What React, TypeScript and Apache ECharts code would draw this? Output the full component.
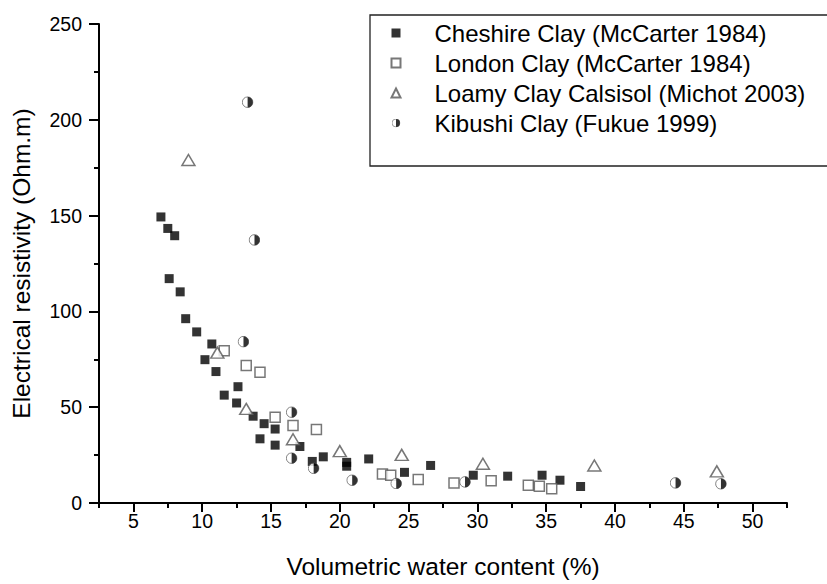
import React, { useEffect, useRef } from "react";
import * as echarts from "echarts";

const seriesNames = [
  "Cheshire Clay (McCarter 1984)",
  "London Clay (McCarter 1984)",
  "Loamy Clay Calsisol (Michot 2003)",
  "Kibushi Clay (Fukue 1999)",
];

const cheshireX = [7.0, 7.5, 8.0, 7.6, 8.4, 8.8, 9.6, 10.7, 10.2, 11.0, 11.6, 12.6, 12.5, 13.7, 14.5, 14.2, 15.3, 15.3, 17.1, 18.0, 18.8, 20.5, 20.5, 22.1, 24.7, 26.6, 29.7, 32.2, 34.7, 36.0, 37.5];
const cheshireY = [149.3, 143.3, 139.5, 117.1, 110.2, 96.2, 89.3, 83.0, 74.8, 68.6, 56.3, 60.7, 52.2, 45.3, 41.4, 33.5, 38.6, 30.2, 29.5, 21.7, 24.1, 21.2, 19.2, 23.0, 16.0, 19.6, 14.5, 14.0, 14.5, 11.9, 8.6];

const londonX = [11.6, 13.2, 14.2, 15.3, 16.6, 18.3, 23.1, 23.7, 25.7, 28.3, 31.0, 33.7, 34.5, 35.4];
const londonY = [79.5, 71.7, 68.3, 44.8, 40.5, 38.3, 15.2, 14.5, 12.2, 10.5, 11.6, 9.2, 8.8, 7.5];

const loamyX = [9.0, 11.1, 13.2, 16.6, 20.0, 24.5, 30.4, 38.5, 47.4];
const loamyY = [179, 78.5, 49.1, 33.3, 27.1, 25.1, 20.5, 19.6, 16.5];

const kibushiX = [13.3, 13.8, 13.0, 16.5, 16.5, 18.1, 20.9, 24.1, 29.1, 44.4, 47.7];
const kibushiY = [209.2, 137.3, 84.2, 47.4, 23.4, 18.1, 11.9, 10.2, 11.0, 10.5, 10.0];

const xLabelValues = [5, 10, 15, 20, 25, 30, 35, 40, 45, 50];
const xAllTickValues = [2.5, 5, 7.5, 10, 12.5, 15, 17.5, 20, 22.5, 25, 27.5, 30, 32.5, 35, 37.5, 40, 42.5, 45, 47.5, 50, 52.5];

const xTitle = "Volumetric water content (%)";
const yTitle = "Electrical resistivity (Ohm.m)";

const FONT = "'Liberation Sans', Arial, sans-serif";

const halfCircleSvg =
  "<svg xmlns='http://www.w3.org/2000/svg' width='24' height='24' viewBox='0 0 24 24'>" +
  "<circle cx='12' cy='12' r='10.6' fill='white' stroke='#555' stroke-width='1.8'/>" +
  "<path d='M12 1.4 A10.6 10.6 0 0 1 12 22.6 Z' fill='black'/></svg>";
const halfCircleSymbol = "image://data:image/svg+xml;charset=utf-8," + encodeURIComponent(halfCircleSvg);

function zip(xs: number[], ys: number[]) {
  return xs.map((x, i) => [x, ys[i]]);
}

export default function App() {
  const ref = useRef<HTMLDivElement>(null);
  useEffect(() => {
    if (!ref.current) return;
    const chart = echarts.init(ref.current, null, { renderer: "svg" });
    const axisLineStyle = { color: "#000", width: 2 };
    chart.setOption({
      animation: false,
      backgroundColor: "#fff",
      textStyle: { fontFamily: FONT },
      grid: { left: 99, right: 40, top: 24, bottom: 73.5 },
      legend: {
        orient: "vertical",
        left: 390.5,
        top: 21,
        padding: 0,
        itemWidth: 9,
        itemHeight: 9,
        itemGap: 6,
        selectedMode: false,
        textStyle: { fontFamily: FONT, fontSize: 24, color: "#000", lineHeight: 24, padding: [0, 0, 0, 29] },
        data: seriesNames,
      },
      graphic: [
        {
          type: "rect",
          shape: { x: 370, y: 15, width: 520, height: 151 },
          style: { fill: "transparent", stroke: "#222", lineWidth: 1.3 },
          silent: true,
          z: -1,
        },
      ],
      xAxis: [
        {
          type: "value",
          min: 2.5,
          max: 52.5,
          interval: 2.5,
          name: xTitle,
          nameLocation: "middle",
          nameGap: 51,
          nameTextStyle: { fontFamily: FONT, fontSize: 24.5, color: "#000" },
          axisLine: { show: true, onZero: false, lineStyle: axisLineStyle },
          axisTick: { show: true, inside: false, length: 5, lineStyle: { color: "#000", width: 2 }, customValues: xAllTickValues },
          axisLabel: { customValues: xLabelValues, fontFamily: FONT, fontSize: 19.5, color: "#000", margin: 8 },
          splitLine: { show: false },
        },
        {
          type: "value",
          min: 2.5,
          max: 52.5,
          position: "bottom",
          axisLine: { show: false },
          axisTick: { show: true, inside: false, length: 9, lineStyle: { color: "#000", width: 2 }, customValues: xLabelValues },
          axisLabel: { show: false },
          splitLine: { show: false },
        },
      ],
      yAxis: {
        type: "value",
        min: 0,
        max: 250,
        interval: 50,
        name: yTitle,
        nameLocation: "middle",
        nameGap: 65,
        nameTextStyle: { fontFamily: FONT, fontSize: 24.5, color: "#000" },
        axisLine: { show: true, onZero: false, lineStyle: axisLineStyle },
        axisTick: { show: true, inside: false, length: 10, lineStyle: { color: "#000", width: 2 } },
        minorTick: { show: true, splitNumber: 2, length: 5, lineStyle: { color: "#000", width: 2 } },
        axisLabel: { fontFamily: FONT, fontSize: 19.5, color: "#000", margin: 17 },
        splitLine: { show: false },
      },
      series: [
        {
          name: seriesNames[0],
          type: "scatter",
          symbol: "rect",
          symbolSize: 9,
          itemStyle: { color: "#000" },
          data: zip(cheshireX, cheshireY),
        },
        {
          name: seriesNames[1],
          type: "scatter",
          symbol: "rect",
          symbolSize: 10,
          itemStyle: { color: "#fff", borderColor: "#555", borderWidth: 1.5 },
          data: zip(londonX, londonY),
        },
        {
          name: seriesNames[2],
          type: "scatter",
          symbol: "triangle",
          symbolSize: [13, 11],
          itemStyle: { color: "#fff", borderColor: "#555", borderWidth: 1.5 },
          data: zip(loamyX, loamyY),
        },
        {
          name: seriesNames[3],
          type: "scatter",
          symbol: halfCircleSymbol,
          symbolSize: 12,
          data: zip(kibushiX, kibushiY),
        },
      ],
    });
    return () => chart.dispose();
  }, []);
  return <div ref={ref} style={{ width: 827, height: 584, position: "absolute", left: 0, top: 0 }} />;
}
